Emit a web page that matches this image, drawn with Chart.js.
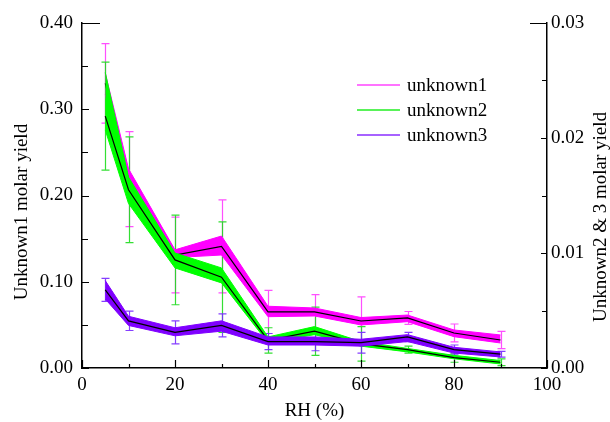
<!DOCTYPE html>
<html>
<head>
<meta charset="utf-8">
<script src="https://cdn.jsdelivr.net/npm/chart.js@4"></script>
<style>
  html, body { margin: 0; padding: 0; background: #fff; }
  #wrap { width: 610px; height: 422px; }
</style>
</head>
<body>
<div id="wrap"><canvas id="rhChart" width="610" height="422"></canvas></div>
<script>
// RH steps shared by all three series
const rh = [5, 10, 20, 30, 40, 50, 60, 70, 80, 90];

// unknown1 (left axis): mean line, shaded band and error bars
const unk1Mean  = [0.330, 0.219, 0.131, 0.141, 0.065, 0.065, 0.0545, 0.058, 0.0406, 0.0325];
const unk1Upper = [0.342, 0.231, 0.137, 0.153, 0.0716, 0.0696, 0.0585, 0.0614, 0.0441, 0.0383];
const unk1Lower = [0.317, 0.209, 0.128, 0.131, 0.0595, 0.0603, 0.0499, 0.0537, 0.0363, 0.029];
const unk1Err   = [0.046, 0.055, 0.044, 0.054, 0.025, 0.020, 0.028, 0.0075, 0.0104, 0.010];

// unknown2 (right axis)
const unk2Mean  = [0.0219, 0.0155, 0.0094, 0.0079, 0.0024, 0.0032, 0.0021, 0.0016, 0.0009, 0.0005];
const unk2Upper = [0.0257, 0.0166, 0.0100, 0.0087, 0.0027, 0.0036, 0.0023, 0.0017, 0.0011, 0.00065];
const unk2Lower = [0.0207, 0.0143, 0.0087, 0.0074, 0.0022, 0.0029, 0.0019, 0.0014, 0.0008, 0.00035];
const unk2Err   = [0.0047, 0.0046, 0.0039, 0.0048, 0.0011, 0.0021, 0.0015, 0.0003, 0.0004, 0.0003];

// unknown3 (right axis)
const unk3Mean  = [0.0068, 0.0041, 0.0031, 0.0037, 0.0023, 0.0023, 0.0022, 0.0027, 0.0016, 0.0012];
const unk3Upper = [0.0076, 0.0045, 0.0035, 0.0041, 0.0027, 0.0027, 0.0025, 0.0029, 0.0018, 0.0014];
const unk3Lower = [0.0060, 0.0037, 0.0028, 0.0032, 0.0020, 0.0020, 0.0019, 0.0023, 0.0013, 0.00096];
const unk3Err   = [0.0010, 0.00084, 0.0010, 0.0010, 0.0007, 0.0008, 0.0009, 0.0004, 0.0004, 0.00025];

const seriesNames = ['unknown1', 'unknown2', 'unknown3'];

const seriesList = [
  { name: seriesNames[0], axis: 'y',  mean: unk1Mean, upper: unk1Upper, lower: unk1Lower, err: unk1Err,
    fill: '#ff00ff', bar: 'rgba(255,60,255,0.9)', legend: '#ff44ff' },
  { name: seriesNames[1], axis: 'y2', mean: unk2Mean, upper: unk2Upper, lower: unk2Lower, err: unk2Err,
    fill: '#00ff00', bar: 'rgba(30,220,30,0.9)', legend: '#22ee22' },
  { name: seriesNames[2], axis: 'y2', mean: unk3Mean, upper: unk3Upper, lower: unk3Lower, err: unk3Err,
    fill: '#7f00ff', bar: 'rgba(120,40,255,0.9)', legend: '#8a2eff' }
];

const pts = arr => rh.map((x, i) => ({ x: x, y: arr[i] }));

// band (upper filled down to lower) + black mean line for each series
const chartSets = [];
seriesList.forEach((s, k) => {
  const base = chartSets.length;
  const ord = 10 - k * 3;
  chartSets.push({
    label: s.name + ' upper', data: pts(s.upper), yAxisID: s.axis,
    borderColor: s.fill, borderWidth: 1, pointRadius: 0, tension: 0,
    backgroundColor: s.fill, fill: { target: base + 1 }, order: ord
  });
  chartSets.push({
    label: s.name + ' lower', data: pts(s.lower), yAxisID: s.axis,
    borderColor: s.fill, borderWidth: 1, pointRadius: 0, tension: 0, fill: false, order: ord
  });
  chartSets.push({
    label: s.name, data: pts(s.mean), yAxisID: s.axis,
    borderColor: '#000', borderWidth: 1.2, pointRadius: 0, tension: 0, fill: false, order: ord - 1
  });
});

// generic serif resolves to the Times-like face in this browser
const textFamily = 'serif';
Chart.defaults.font.family = textFamily;
Chart.defaults.font.size = 19;
const tickFont = { family: textFamily, size: 19 };

// error bars drawn under the bands
const errorBars = {
  id: 'errorBars',
  beforeDatasetsDraw(chart) {
    const ctx = chart.ctx, xs = chart.scales.x;
    ctx.save();
    ctx.lineWidth = 1.2;
    seriesList.forEach(s => {
      const ys = chart.scales[s.axis];
      ctx.strokeStyle = s.bar;
      rh.forEach((x, i) => {
        const px = Math.round(xs.getPixelForValue(x)) + 0.5;
        const top = ys.getPixelForValue(s.mean[i] + s.err[i]);
        const bot = ys.getPixelForValue(Math.max(0, s.mean[i] - s.err[i]));
        ctx.beginPath();
        ctx.moveTo(px, top); ctx.lineTo(px, bot);
        ctx.moveTo(px - 4, top); ctx.lineTo(px + 4, top);
        ctx.moveTo(px - 4, bot); ctx.lineTo(px + 4, bot);
        ctx.stroke();
      });
    });
    ctx.restore();
  }
};

// inward tick marks, legend and y titles
const decorations = {
  id: 'decorations',
  afterDraw(chart) {
    const ctx = chart.ctx;
    const { left, right, top, bottom } = chart.chartArea;
    const xs = chart.scales.x, yl = chart.scales.y, yr = chart.scales.y2;
    ctx.save();
    ctx.strokeStyle = '#000';
    ctx.lineWidth = 1.2;
    ctx.beginPath();
    for (let v = 0; v <= 100; v += 10) {
      const px = Math.round(xs.getPixelForValue(v)) + 0.5;
      const len = v % 20 === 0 ? 8 : 4;
      ctx.moveTo(px, bottom); ctx.lineTo(px, bottom - len);
    }
    for (let k = 0; k <= 8; k++) {
      const py = Math.round(yl.getPixelForValue(k * 0.05)) + 0.5;
      ctx.moveTo(left, py); ctx.lineTo(left + (k % 2 === 0 ? 7 : 6), py);
    }
    for (let k = 0; k <= 6; k++) {
      const py = Math.round(yr.getPixelForValue(k * 0.005)) + 0.5;
      ctx.moveTo(right, py); ctx.lineTo(right - (k % 2 === 0 ? 6 : 5), py);
    }
    // short top stubs
    ctx.moveTo(left, top + 0.5); ctx.lineTo(left + 18, top + 0.5);
    ctx.moveTo(right, top + 0.5); ctx.lineTo(right - 17, top + 0.5);
    ctx.stroke();

    // legend
    ctx.font = '19px ' + textFamily;
    ctx.textBaseline = 'middle';
    ctx.textAlign = 'left';
    seriesList.forEach((s, i) => {
      const ly = 85 + i * 25;
      ctx.strokeStyle = s.legend;
      ctx.lineWidth = 1.5;
      ctx.beginPath();
      ctx.moveTo(357, ly); ctx.lineTo(400, ly);
      ctx.stroke();
      ctx.fillStyle = '#000';
      ctx.fillText(s.name, 407, ly + 1);
    });

    // y axis titles, both reading bottom to top
    ctx.textAlign = 'center';
    ctx.fillStyle = '#000';
    [[22, 212, 'Unknown1 molar yield'], [601, 217, 'Unknown2 & 3 molar yield']].forEach(([tx, ty, txt]) => {
      ctx.save();
      ctx.translate(tx, ty);
      ctx.rotate(-Math.PI / 2);
      ctx.fillText(txt, 0, 0);
      ctx.restore();
    });
    ctx.restore();
  }
};

new Chart(document.getElementById('rhChart').getContext('2d'), {
  type: 'line',
  data: { datasets: chartSets },
  options: {
    responsive: false,
    animation: false,
    layout: { padding: { top: 23, left: 0, right: 0, bottom: 0 } },
    plugins: { legend: { display: false }, tooltip: { enabled: false } },
    scales: {
      x: {
        type: 'linear', min: 0, max: 100,
        grid: { display: false, drawTicks: false },
        border: { display: true, color: '#000', width: 1.5 },
        ticks: { stepSize: 20, padding: 6, maxRotation: 0, color: '#000', font: tickFont },
        title: { display: true, text: 'RH (%)', color: '#000', font: tickFont, padding: { top: 0, bottom: 0 } },
        afterFit: sc => { sc.height = 54; }
      },
      y: {
        position: 'left', min: 0, max: 0.4,
        grid: { display: false, drawTicks: false },
        border: { display: true, color: '#000', width: 1.5 },
        ticks: { stepSize: 0.1, padding: 9, color: '#000', font: tickFont, callback: v => v.toFixed(2) },
        afterFit: sc => { sc.width = 82; }
      },
      y2: {
        position: 'right', min: 0, max: 0.03,
        grid: { display: false, drawTicks: false },
        border: { display: true, color: '#000', width: 1.5 },
        ticks: { stepSize: 0.01, padding: 4, color: '#000', font: tickFont, callback: v => v.toFixed(2) },
        afterFit: sc => { sc.width = 63; }
      }
    }
  },
  plugins: [errorBars, decorations]
});
</script>
</body>
</html>
